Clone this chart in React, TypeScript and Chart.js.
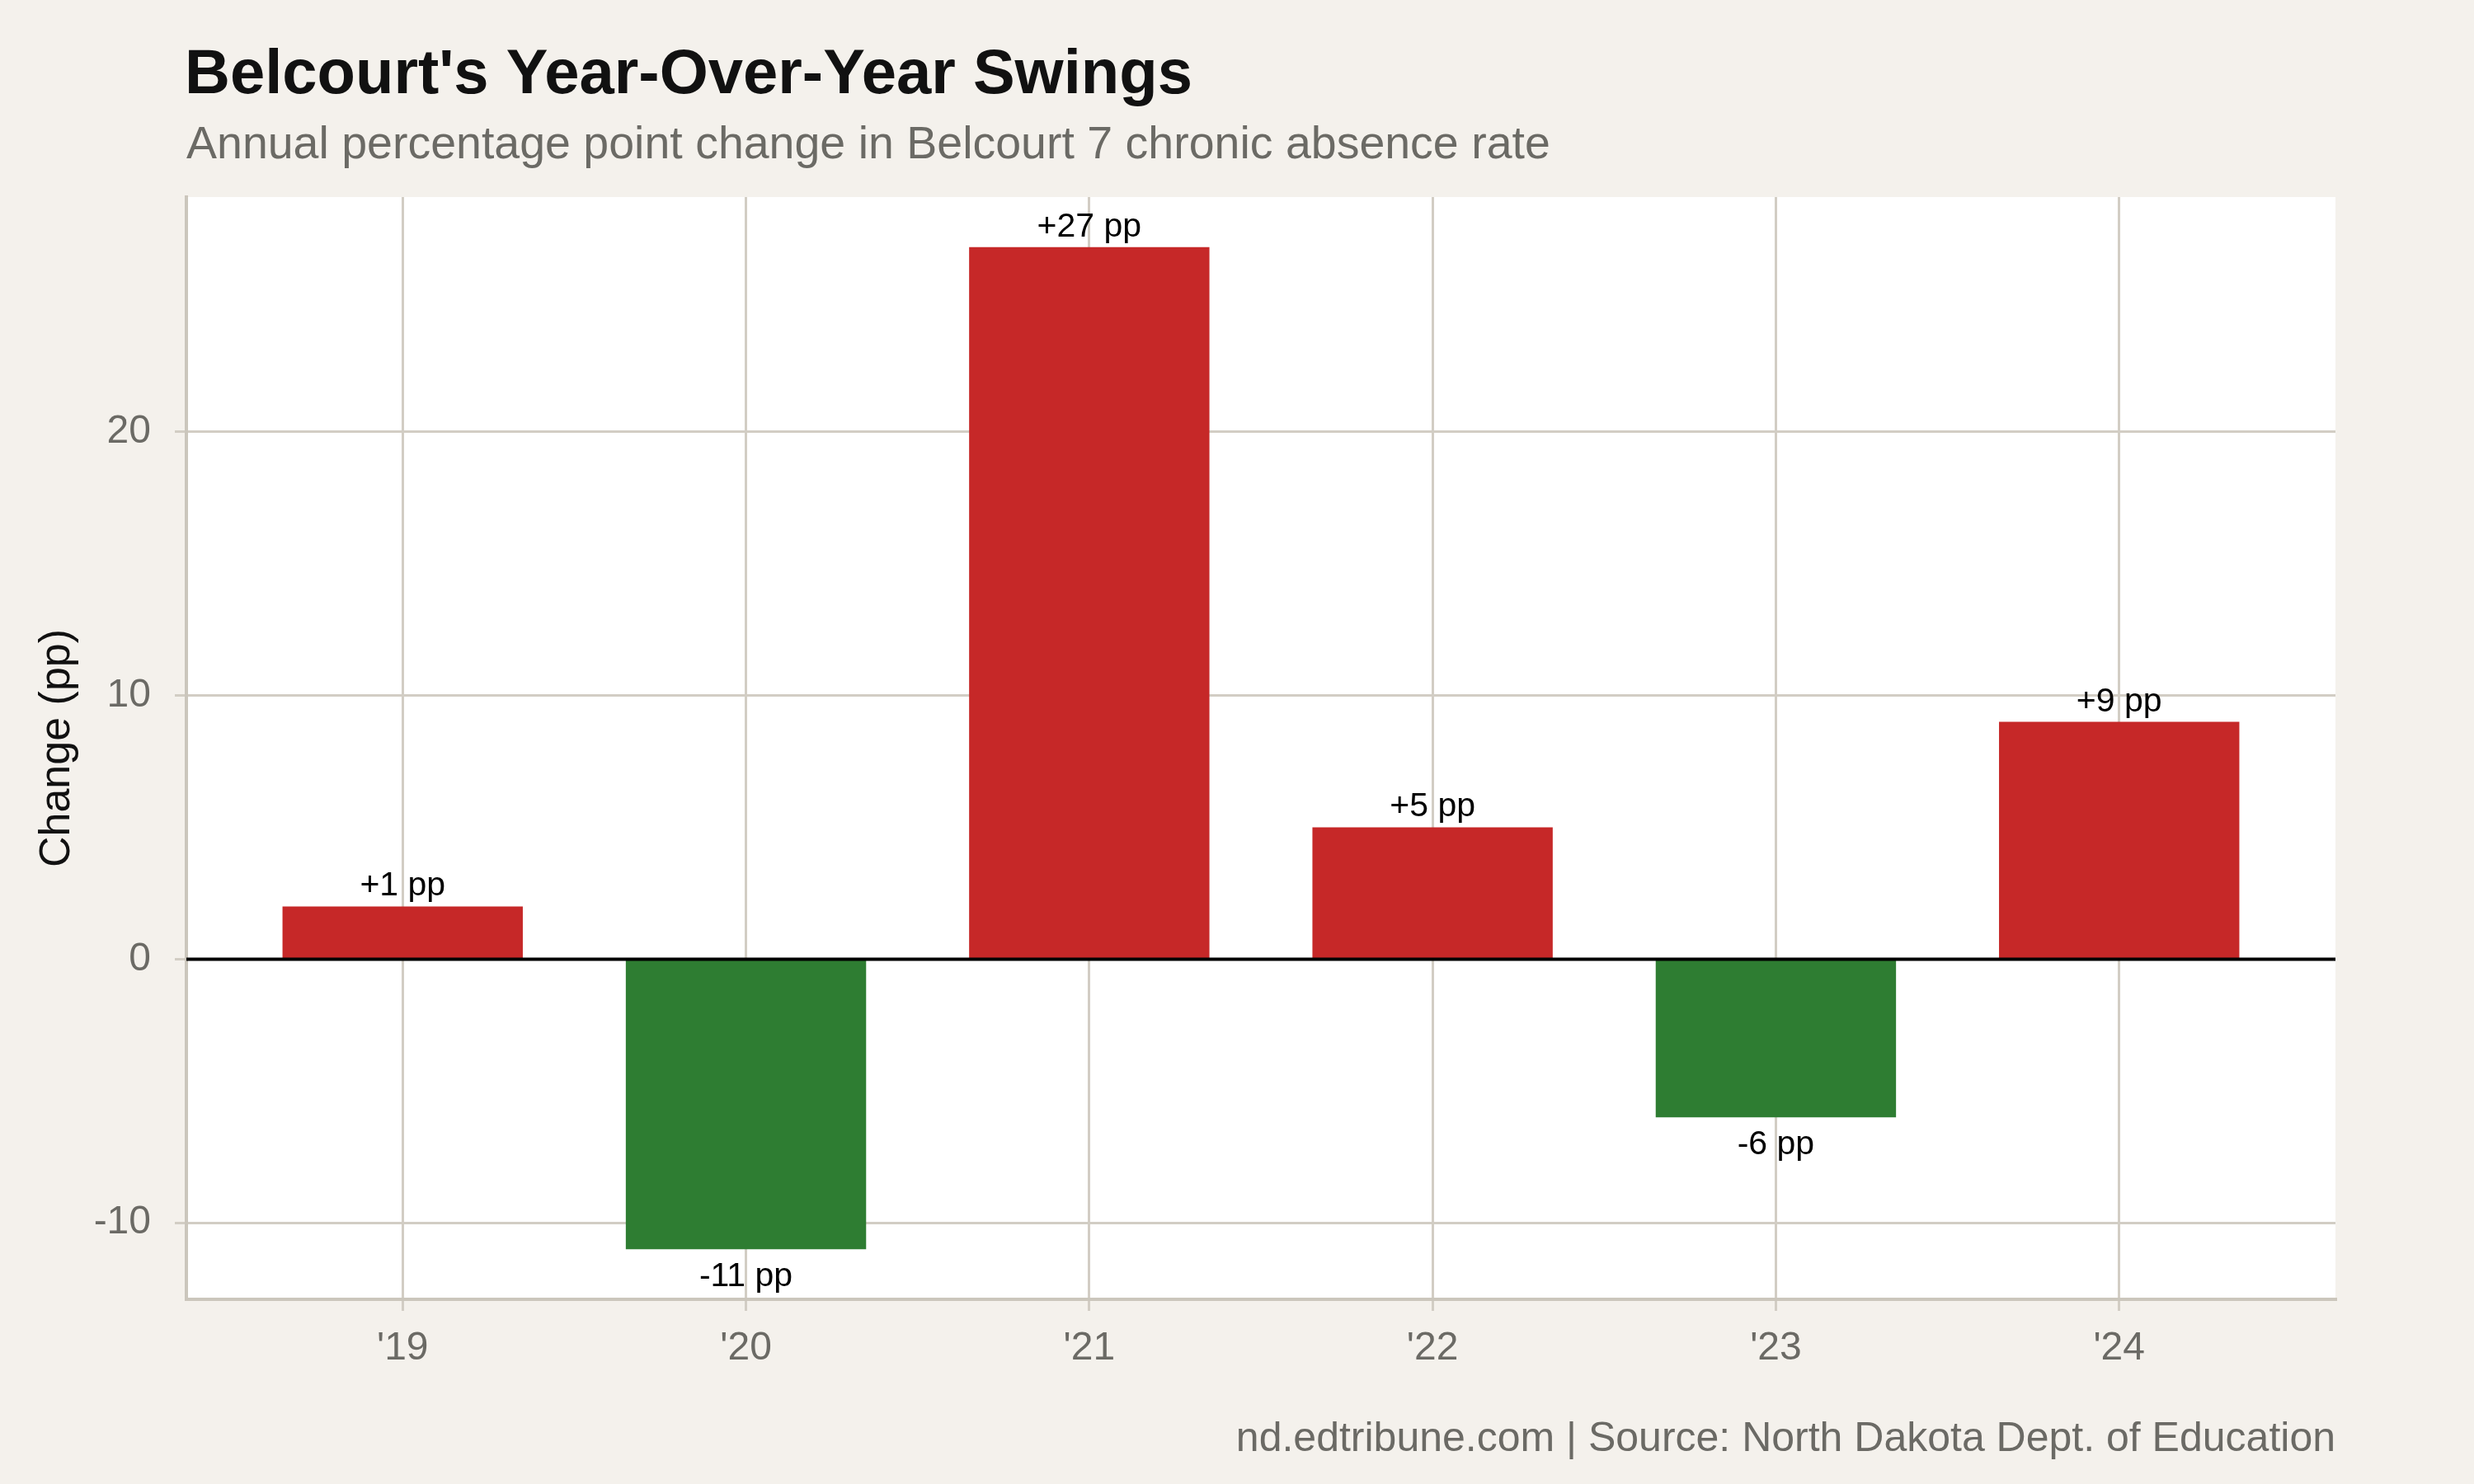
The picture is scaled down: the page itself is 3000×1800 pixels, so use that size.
import React, { useEffect, useRef } from 'react';
import { Chart, registerables } from 'chart.js';

Chart.register(...registerables);

// School years (x axis) and the year-over-year change in chronic absence, in percentage points
const years = ["'19", "'20", "'21", "'22", "'23", "'24"];
const changes = [2, -11, 27, 5, -6, 9];
const changeLabels = ['+1 pp', '-11 pp', '+27 pp', '+5 pp', '-6 pp', '+9 pp'];
const yTicks = [-10, 0, 10, 20];

const titleText = "Belcourt's Year-Over-Year Swings";
const subtitleText = 'Annual percentage point change in Belcourt 7 chronic absence rate';
const captionText = 'nd.edtribune.com | Source: North Dakota Dept. of Education';
const yAxisTitle = 'Change (pp)';

const FONT = '"Liberation Sans", Arial, Helvetica, sans-serif';
const PAGE_BG = '#f4f1ec';
const PANEL_BG = '#ffffff';
const GRID = '#d2cdc4';
const AXIS = '#cbc6bc';
const MUTED = '#6b6a65';
const INK = '#111111';
const UP = '#c62828';
const DOWN = '#2e7d32';

// ggplot-style 5% expansion around the data range
const lo = Math.min(0, ...changes);
const hi = Math.max(0, ...changes);
const pad = (hi - lo) * 0.05;

const backgroundPlugin = {
  id: 'panelBackground',
  beforeDraw(chart: any) {
    const { ctx, chartArea } = chart;
    ctx.save();
    ctx.fillStyle = PAGE_BG;
    ctx.fillRect(0, 0, chart.width, chart.height);
    ctx.fillStyle = PANEL_BG;
    ctx.fillRect(chartArea.left, chartArea.top, chartArea.right - chartArea.left, chartArea.bottom - chartArea.top);
    ctx.restore();
  },
};

const annotationPlugin = {
  id: 'barAnnotations',
  afterDatasetsDraw(chart: any) {
    const { ctx, chartArea, scales } = chart;
    const y0 = scales.y.getPixelForValue(0);
    ctx.save();
    // zero reference line
    ctx.strokeStyle = '#000000';
    ctx.lineWidth = 4;
    ctx.beginPath();
    ctx.moveTo(chartArea.left, y0);
    ctx.lineTo(chartArea.right, y0);
    ctx.stroke();

    // value labels
    const meta = chart.getDatasetMeta(0);
    ctx.font = `41px ${FONT}`;
    ctx.fillStyle = '#000000';
    ctx.textAlign = 'center';
    ctx.textBaseline = 'alphabetic';
    meta.data.forEach((bar: any, i: number) => {
      const v = changes[i];
      const y = v >= 0 ? bar.y - 13 : bar.y + 45;
      ctx.fillText(changeLabels[i], bar.x, y);
    });
    ctx.restore();
  },
};

const textPlugin = {
  id: 'headings',
  afterDraw(chart: any) {
    const { ctx, chartArea } = chart;
    ctx.save();
    ctx.textBaseline = 'alphabetic';
    ctx.textAlign = 'left';
    ctx.fillStyle = INK;
    ctx.font = `bold 76px ${FONT}`;
    ctx.fillText(titleText, chartArea.left - 2, 113);
    ctx.fillStyle = MUTED;
    ctx.font = `55.5px ${FONT}`;
    ctx.fillText(subtitleText, chartArea.left, 192);
    ctx.textAlign = 'right';
    ctx.font = `50px ${FONT}`;
    ctx.fillText(captionText, chartArea.right, 1760);
    ctx.restore();
  },
};

export default function App() {
  const canvasRef = useRef<HTMLCanvasElement | null>(null);

  useEffect(() => {
    if (!canvasRef.current) return;
    const chart = new Chart(canvasRef.current, {
      type: 'bar',
      data: {
        datasets: [
          {
            label: yAxisTitle,
            data: changes.map((v, i) => ({ x: i, y: v })),
            backgroundColor: changes.map((v) => (v >= 0 ? UP : DOWN)),
            borderWidth: 0,
            barPercentage: 0.7,
            categoryPercentage: 1,
          },
        ],
      },
      options: {
        responsive: false,
        animation: false,
        layout: { padding: { top: 239, right: 168, bottom: 124, left: 0 } },
        plugins: {
          legend: { display: false },
          title: { display: false },
          tooltip: { enabled: false },
        },
        scales: {
          x: {
            type: 'linear',
            min: -0.63,
            max: years.length - 1 + 0.63,
            offset: false,
            afterBuildTicks: (s: any) => {
              s.ticks = years.map((_, i) => ({ value: i }));
            },
            afterFit: (s: any) => {
              s.height = 100;
            },
            grid: {
              offset: false,
              color: GRID,
              lineWidth: 3,
              drawTicks: true,
              tickLength: 14,
              tickColor: GRID,
              tickWidth: 3,
            },
            border: { display: true, color: AXIS, width: 4 },
            ticks: {
              color: MUTED,
              font: { family: FONT, size: 48 },
              padding: 17,
              autoSkip: false,
              maxRotation: 0,
              callback: (v: any) => years[Math.round(Number(v))] ?? '',
            },
          },
          y: {
            type: 'linear',
            min: lo - pad,
            max: hi + pad,
            afterBuildTicks: (s: any) => {
              s.ticks = yTicks.map((v) => ({ value: v }));
            },
            afterFit: (s: any) => {
              s.width = 226;
            },
            grid: {
              color: GRID,
              lineWidth: 3,
              drawTicks: true,
              tickLength: 14,
              tickColor: GRID,
              tickWidth: 3,
            },
            border: { display: true, color: AXIS, width: 4 },
            ticks: {
              color: MUTED,
              font: { family: FONT, size: 48 },
              padding: 29,
              callback: (v: any) => `${v}`,
            },
            title: {
              display: true,
              text: yAxisTitle,
              color: INK,
              font: { family: FONT, size: 52 },
              padding: { top: 38, bottom: 0 },
            },
          },
        },
      },
      plugins: [backgroundPlugin, annotationPlugin, textPlugin],
    } as any);
    return () => chart.destroy();
  }, []);

  return (
    <div style={{ position: 'fixed', left: 0, top: 0, width: 3000, height: 1800, background: PAGE_BG }}>
      <canvas ref={canvasRef} width={3000} height={1800} style={{ display: 'block' }} />
    </div>
  );
}
